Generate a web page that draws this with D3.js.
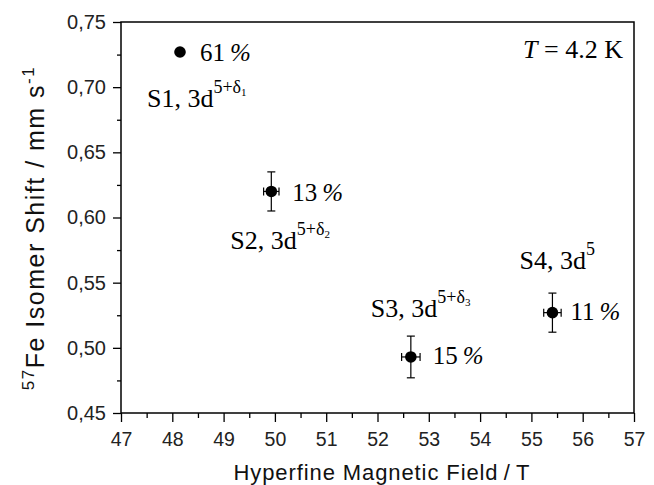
<!DOCTYPE html>
<html>
<head>
<meta charset="utf-8">
<script src="https://cdn.jsdelivr.net/npm/d3@7"></script>
<style>
  html, body { margin: 0; padding: 0; background: #fff; }
  svg { display: block; }
</style>
</head>
<body>
<svg id="chart" width="654" height="485"></svg>
<script>
// ---- data ----
const sites = ["S1", "S2", "S3", "S4"];
const hyperfineField = [48.15, 49.93, 52.65, 55.41];      // T
const isomerShift = [0.727, 0.620, 0.493, 0.527];        // mm/s
const shiftError = [0, 0.015, 0.016, 0.015];
const fieldError = [0, 0.15, 0.18, 0.17];
const fractions = ["61", "13", "15", "11"];
const configSup = ["5+δ", "5+δ", "5+δ", "5"];
const configSub = ["1", "2", "3", ""];
const xTicks = [47, 48, 49, 50, 51, 52, 53, 54, 55, 56, 57];
const yTicks = [0.45, 0.50, 0.55, 0.60, 0.65, 0.70, 0.75];

// ---- layout ----
const svg = d3.select("#chart");
const L = 121, R = 634, T = 22, B = 413;
const x = d3.scaleLinear().domain([47, 57]).range([L, R]);
const y = d3.scaleLinear().domain([0.45, 0.75]).range([B, T]);
const sans = "'Liberation Sans', Arial, Helvetica, sans-serif";
const serif = "'Liberation Serif', 'Times New Roman', Times, serif";

// minor ticks
const xMinor = xTicks.slice(0, -1).map(v => v + 0.5);
const yMinor = yTicks.slice(0, -1).map(v => v + 0.025);
svg.append("g").attr("transform", `translate(0,${B})`)
  .call(d3.axisBottom(x).tickValues(xMinor).tickSize(5).tickSizeOuter(0).tickFormat(""))
  .call(g => g.select(".domain").remove())
  .call(g => g.selectAll("line").attr("stroke", "#000").attr("stroke-width", 1.3));
svg.append("g").attr("transform", `translate(${L},0)`)
  .call(d3.axisLeft(y).tickValues(yMinor).tickSize(4).tickSizeOuter(0).tickFormat(""))
  .call(g => g.select(".domain").remove())
  .call(g => g.selectAll("line").attr("stroke", "#000").attr("stroke-width", 1.3));

// major axes
const fmtY = v => d3.format(".2f")(v).replace(".", ",");
svg.append("g").attr("transform", `translate(0,${B})`)
  .call(d3.axisBottom(x).tickValues(xTicks).tickSize(9).tickSizeOuter(0).tickPadding(10).tickFormat(d3.format("d")))
  .call(g => g.select(".domain").remove())
  .call(g => g.selectAll("line").attr("stroke", "#000").attr("stroke-width", 1.3))
  .call(g => g.selectAll("text").attr("font-family", sans).attr("font-size", 19.5).attr("fill", "#222"));
svg.append("g").attr("transform", `translate(${L},0)`)
  .call(d3.axisLeft(y).tickValues(yTicks).tickSize(8).tickSizeOuter(0).tickPadding(7).tickFormat(fmtY))
  .call(g => g.select(".domain").remove())
  .call(g => g.selectAll("line").attr("stroke", "#000").attr("stroke-width", 1.3))
  .call(g => g.selectAll("text").attr("font-family", sans).attr("font-size", 20).attr("fill", "#222"));

// frame
svg.append("rect").attr("x", L).attr("y", T).attr("width", R - L).attr("height", B - T)
  .attr("fill", "none").attr("stroke", "#000").attr("stroke-width", 1.5);

// axis titles
svg.append("text").attr("x", 382).attr("y", 480).attr("text-anchor", "middle")
  .attr("font-family", sans).attr("font-size", 22).attr("letter-spacing", 0.9).attr("fill", "#111")
  .text("Hyperfine Magnetic Field\u2009/\u2009T");

const yt = svg.append("text").attr("transform", "translate(44,228) rotate(-90)")
  .attr("text-anchor", "middle").attr("font-family", sans).attr("font-size", 25)
  .attr("letter-spacing", 1.5).attr("fill", "#111");
yt.append("tspan").attr("font-size", 17).attr("dy", -10).text("57");
yt.append("tspan").attr("dy", 10).text("Fe Isomer Shift / mm s");
yt.append("tspan").attr("font-size", 17).attr("dy", -10).text("-1");

// data
const data = sites.map((s, i) => ({
  s, fx: hyperfineField[i], is: isomerShift[i], ey: shiftError[i], ex: fieldError[i],
  frac: fractions[i], sup: configSup[i], sub: configSub[i]
}));

// error bars
const eb = svg.append("g").attr("stroke", "#000").attr("stroke-width", 1.2);
data.filter(d => d.ey > 0).forEach(d => {
  const cx = x(d.fx), cy = y(d.is);
  eb.append("line").attr("x1", cx).attr("x2", cx).attr("y1", y(d.is - d.ey)).attr("y2", y(d.is + d.ey));
  eb.append("line").attr("x1", cx - 4).attr("x2", cx + 4).attr("y1", y(d.is - d.ey)).attr("y2", y(d.is - d.ey));
  eb.append("line").attr("x1", cx - 4).attr("x2", cx + 4).attr("y1", y(d.is + d.ey)).attr("y2", y(d.is + d.ey));
  eb.append("line").attr("x1", x(d.fx - d.ex)).attr("x2", x(d.fx + d.ex)).attr("y1", cy).attr("y2", cy);
  eb.append("line").attr("x1", x(d.fx - d.ex)).attr("x2", x(d.fx - d.ex)).attr("y1", cy - 4).attr("y2", cy + 4);
  eb.append("line").attr("x1", x(d.fx + d.ex)).attr("x2", x(d.fx + d.ex)).attr("y1", cy - 4).attr("y2", cy + 4);
});

svg.append("g").selectAll("circle").data(data).join("circle")
  .attr("cx", d => x(d.fx)).attr("cy", d => y(d.is)).attr("r", 5.8).attr("fill", "#000");

// label offsets (layout only)
const fracOff = [[20, 9], [21, 10], [22, 7], [18, 7]];
const cfgOff = [[-33, 55], [-41, 58], [-40, -40], [-33, -44]];

data.forEach((d, i) => {
  const cx = x(d.fx), cy = y(d.is);
  const t = svg.append("text").attr("x", cx + fracOff[i][0]).attr("y", cy + fracOff[i][1])
    .attr("font-family", serif).attr("font-size", 25).attr("fill", "#000");
  t.append("tspan").text(d.frac + "\u2009");
  t.append("tspan").attr("font-style", "italic").text("%");

  const c = svg.append("text").attr("x", cx + cfgOff[i][0]).attr("y", cy + cfgOff[i][1])
    .attr("font-family", serif).attr("font-size", 26).attr("fill", "#000");
  c.append("tspan").text(d.s + ", 3d");
  c.append("tspan").attr("font-size", 18).attr("dy", -14).text(d.sup);
  if (d.sub) c.append("tspan").attr("font-size", 11).attr("dy", 3).text(d.sub);
});

// temperature annotation
const tt = svg.append("text").attr("x", 623).attr("y", 58).attr("text-anchor", "end")
  .attr("font-family", serif).attr("font-size", 26).attr("fill", "#000");
tt.append("tspan").attr("font-style", "italic").text("T");
tt.append("tspan").text(" = 4.2 K");
</script>
</body>
</html>
